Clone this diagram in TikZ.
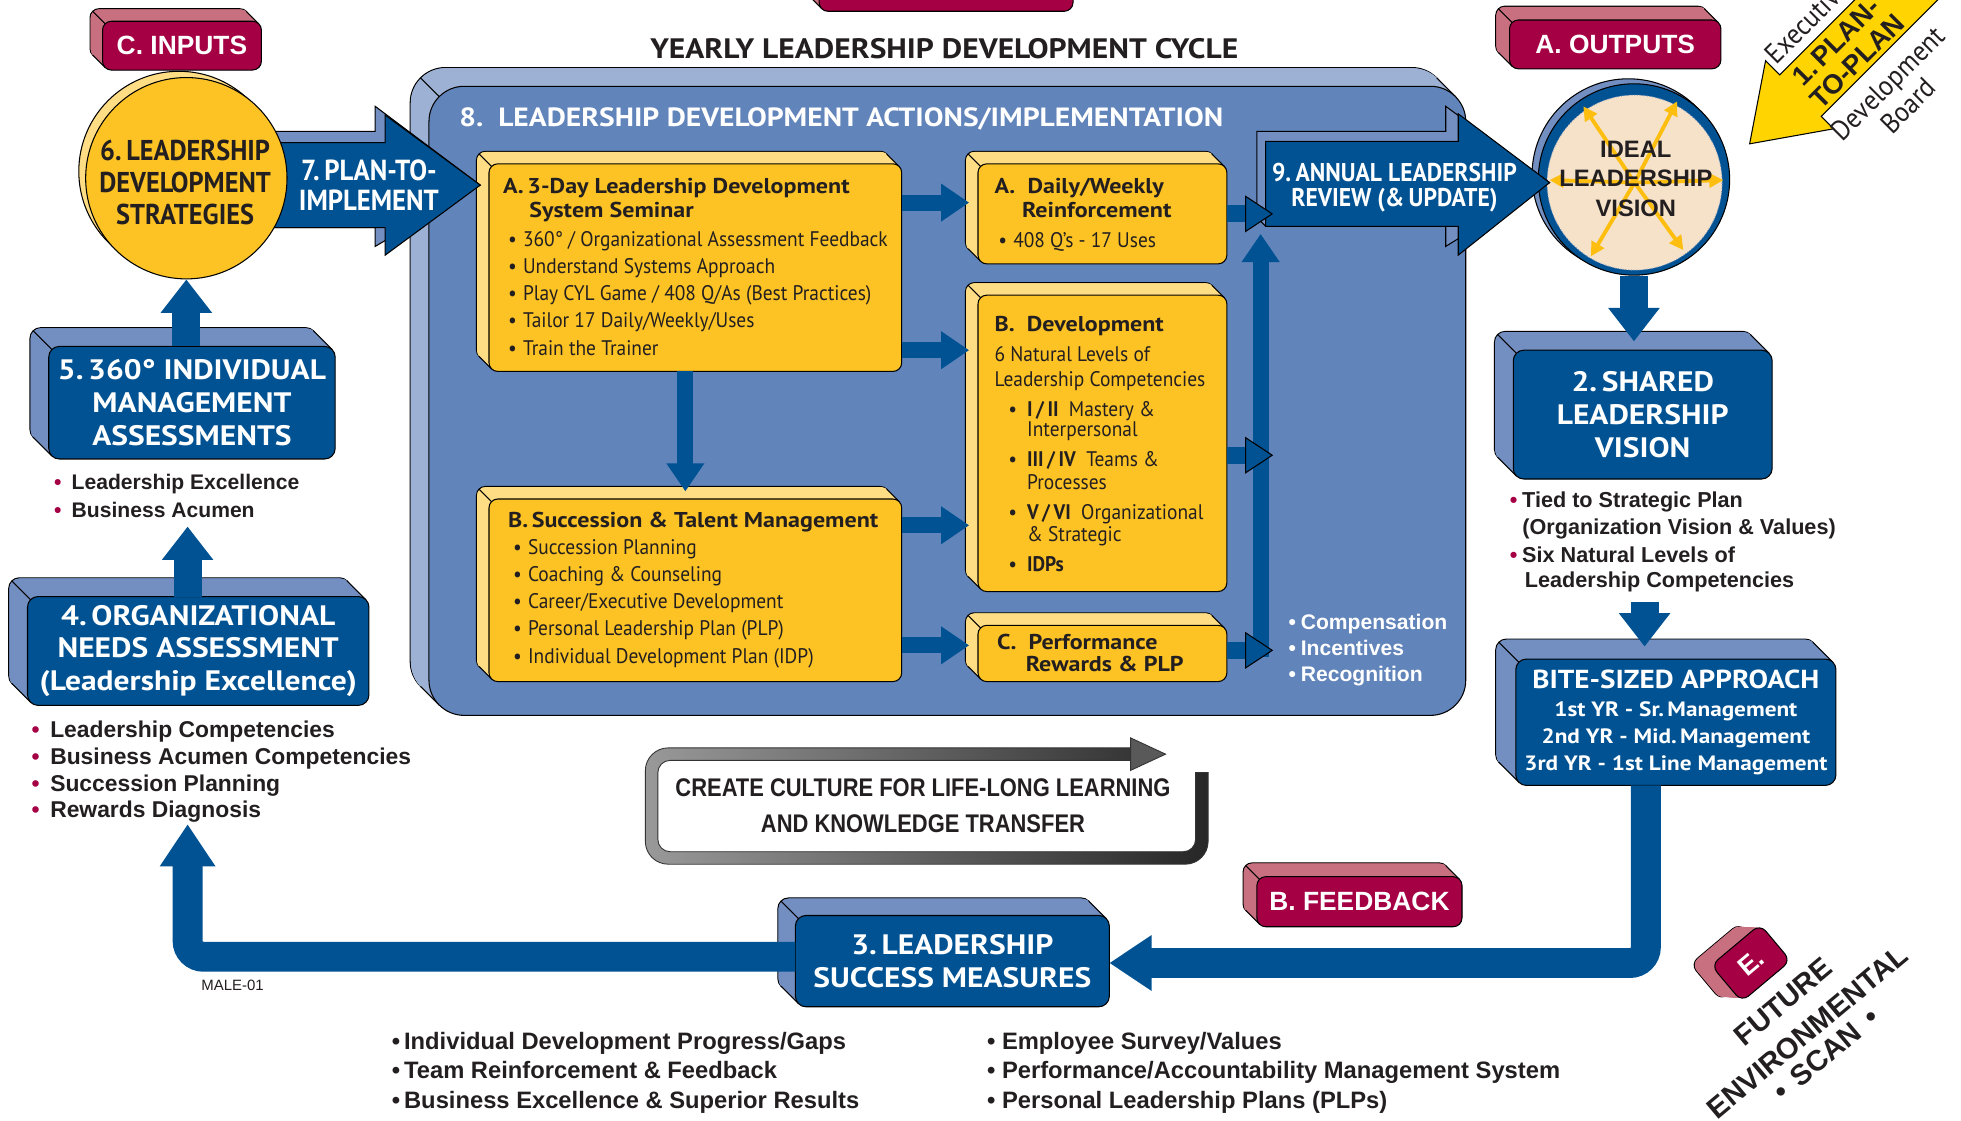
\documentclass[tikz,border=0pt]{standalone}
\usepackage{fontspec}
\setmainfont{PT Sans}
\newfontfamily\myr{PT Sans}[FakeStretch=0.92]
\newfontfamily\myw{PT Sans}[FakeStretch=1.12]
\newfontfamily\hel{Liberation Sans}
\newfontfamily\helc{Liberation Sans}[FakeStretch=0.86]
\usetikzlibrary{arrows.meta}

\definecolor{navy}{RGB}{0,82,147}
\definecolor{navyback}{RGB}{115,143,194}
\definecolor{panel}{RGB}{97,132,186}
\definecolor{panelback}{RGB}{157,177,212}
\definecolor{gold}{RGB}{253,195,37}
\definecolor{goldback}{RGB}{255,221,133}
\definecolor{wine}{RGB}{165,0,68}
\definecolor{wineback}{RGB}{201,112,128}
\definecolor{cream}{RGB}{245,226,200}
\definecolor{ray}{RGB}{253,190,16}
\definecolor{plan}{RGB}{255,212,0}
\definecolor{ink}{RGB}{35,31,32}

\newcommand\fsz[2]{\fontsize{#1}{#2}\selectfont}
\newcommand\rb[1]{\makebox[#1][l]{\textcolor{wine}{•}}}
\newcommand\kb[1]{\makebox[#1][l]{•}}

\pgfdeclarelayer{panelback}
\pgfdeclarelayer{panel}
\pgfdeclarelayer{back}
\pgfsetlayers{panelback,panel,back,main}

% slab node between two corners (picture units)
\newcommand\slabat[7]{%
  \node[#1, minimum width={(#5-#3)*0.025cm}, minimum height={(#6-#4)*0.025cm}]
    (#2) at ({(#3+#5)/2},{(#4+#6)/2}) {#7};}

% back face of a slab: layer, node, depth, colour, radius
\newcommand\extrude[5]{%
  \begin{pgfonlayer}{#1}
    \draw[fill=#4, line width=0.6pt, rounded corners=#5]
      ([shift={(-#3,-#3)}]#2.north west) rectangle ([shift={(-#3,-#3)}]#2.south east);
    \foreach \s in {0.5,1,...,#3}
      \fill[#4, rounded corners=#5]
        ([shift={({\s-#3},{\s-#3})}]#2.north west) rectangle ([shift={({\s-#3},{\s-#3})}]#2.south east);
    \draw[line width=0.6pt] ([shift={({0.293*#5},{0.293*#5})}]#2.south west) -- ++(-#3,-#3);
    \draw[line width=0.6pt] ([shift={({-0.293*#5},{-0.293*#5})}]#2.north east) -- ++(-#3,-#3);
    \draw[line width=0.6pt] ([shift={({0.293*#5},{-0.293*#5})}]#2.north west) -- ++(-#3,-#3);
  \end{pgfonlayer}}

\tikzset{
  slab/.style={rectangle, rounded corners=5pt, draw=black, line width=0.6pt,
    inner sep=0pt, outer sep=0pt, align=center},
  navyslab/.style={slab, rounded corners=6pt, fill=navy, text=white,
    font=\myw\bfseries\fsz{16}{18.6}},
  goldslab/.style={slab, fill=gold},
  wineslab/.style={slab, fill=wine, text=white, font=\hel\bfseries\fsz{15}{18}},
  panelslab/.style={slab, rounded corners=20pt, fill=panel},
  boxtxt/.style={anchor=base west, inner sep=0pt, text=ink, font=\myr\fsz{12}{14}},
  boxhead/.style={boxtxt, font=\myw\bfseries\fsz{12.2}{15}},
  listtxt/.style={anchor=base west, inner sep=0pt, text=ink, font=\hel\bfseries\fsz{12.3}{15}},
  blk/.style={navy, line width=9.2pt, -{Triangle[length=16pt, width=20.5pt]}},
  blkO/.style={navy, line width=9.8pt, -{Triangle[length=16pt, width=21pt, fill=navy, color=black, line width=0.6pt]}},
  blkV/.style={navy, line width=16pt, -{Triangle[length=19pt, width=28pt]}},
  returnarrow/.style={navy, line width=17pt, rounded corners=9pt, -{Triangle[length=24pt, width=30pt]}},
}

\begin{document}
\begin{tikzpicture}[x=0.025cm, y=-0.025cm]
\useasboundingbox (0,0) rectangle (1568,896);

\node[text=ink, font=\myw\bfseries\fsz{16}{20}] (cycle) at (755,39) {YEARLY LEADERSHIP DEVELOPMENT CYCLE};

% panel 8
\begin{pgfonlayer}{panel}
  \slabat{panelslab}{actions}{343}{69}{1172}{572}{}
\end{pgfonlayer}
\extrude{panelback}{actions}{15}{panelback}{20pt}
\node[anchor=base west, inner sep=0pt, text=white, font=\myw\bfseries\fsz{15}{19}] (actionsTitle) at (367,101)
  {8.\ \ LEADERSHIP DEVELOPMENT ACTIONS/IMPLEMENTATION};

% gold boxes
\slabat{goldslab}{semA}{391}{131}{721}{297}{}
\extrude{back}{semA}{10}{goldback}{5pt}
\node[boxhead] (semAh1) at (402,155) {A.\,3-Day Leadership Development};
\node[boxhead] (semAh2) at (423,174) {System Seminar};
\foreach \t [count=\i] in {360° / Organizational Assessment Feedback, Understand Systems Approach,
    Play CYL Game / 408 Q/As (Best Practices), Tailor 17 Daily/Weekly/Uses, Train the Trainer}
  \node[boxtxt] (semA\i) at (406,{197+21.75*(\i-1)}) {\kb{8.5pt}\t};

\slabat{goldslab}{daily}{782}{131}{981}{211}{}
\extrude{back}{daily}{10}{goldback}{5pt}
\node[boxhead] (dailyh1) at (795,155) {A.\ \ Daily/Weekly};
\node[boxhead] (dailyh2) at (817,174) {Reinforcement};
\node[boxtxt] (daily1) at (798,198) {\kb{8.5pt}408 Q’s - 17 Uses};

\slabat{goldslab}{dev}{782}{236}{981}{473}{}
\extrude{back}{dev}{10}{goldback}{5pt}
\node[boxhead] (devh) at (795,265) {B.\ \ Development};
\node[boxtxt] (dev1) at (795,289) {6 Natural Levels of};
\node[boxtxt] (dev2) at (795,309) {Leadership Competencies};
\node[boxtxt] (dev3) at (806,333) {\kb{10.6pt}\textbf{I\,/\,II}\ \ Mastery \&};
\node[boxtxt] (dev4) at (821,349) {Interpersonal};
\node[boxtxt] (dev5) at (806,373) {\kb{10.6pt}\textbf{III\,/\,IV}\ \ Teams \&};
\node[boxtxt] (dev6) at (821,391) {Processes};
\node[boxtxt] (dev7) at (806,415) {\kb{10.6pt}\textbf{V\,/\,VI}\ \ Organizational};
\node[boxtxt] (dev8) at (821,433) {\& Strategic};
\node[boxtxt] (dev9) at (806,457) {\kb{10.6pt}\textbf{IDPs}};

\slabat{goldslab}{succ}{391}{399}{721}{545}{}
\extrude{back}{succ}{10}{goldback}{5pt}
\node[boxhead] (succh) at (406,422) {B.\,Succession \& Talent Management};
\foreach \t [count=\i] in {Succession Planning, Coaching \& Counseling, Career/Executive Development,
    Personal Leadership Plan (PLP), Individual Development Plan (IDP)}
  \node[boxtxt] (succ\i) at (410,{443+21.8*(\i-1)}) {\kb{8.5pt}\t};

\slabat{goldslab}{perf}{782}{500}{981}{545}{}
\extrude{back}{perf}{10}{goldback}{5pt}
\node[boxhead] (perfh1) at (797,519) {C.\ \ Performance};
\node[boxhead] (perfh2) at (820,537) {Rewards \& PLP};

% arrows inside the panel
\coordinate (dailyIn) at ([xshift=-5pt]daily.west);
\coordinate (devIn) at ([xshift=-5pt]dev.west);
\coordinate (perfIn) at ([xshift=-5pt]perf.west);
\coordinate (succIn) at ([yshift=4.3pt]succ.north);
\draw[blk] (semA.east |- 0,162) -- (dailyIn |- 0,162);
\draw[blk] (semA.east |- 0,280) -- (devIn |- 0,280);
\draw[blk] (succ.east |- 0,420) -- (devIn |- 0,420);
\draw[blk] (succ.east |- 0,516) -- (perfIn |- 0,516);
\draw[blk] (semA.south -| 548,0) -- (succIn -| 548,0);

\foreach \t [count=\i] in {Compensation, Incentives, Recognition}
  \node[listtxt, text=white, font=\hel\bfseries\fsz{12}{14}] (reward\i) at (1030,{503+21*(\i-1)}) {\kb{7pt}\t};

% arrow 7 and circle 6
\filldraw[fill=navyback, line width=0.6pt] (215,105) -- (300,105) -- (300,85) -- (384,148)
  -- (300,197) -- (300,182) -- (215,182) -- cycle;
\filldraw[fill=navy, line width=0.6pt] (215,114) -- (308,114) -- (308,92) -- (384,148)
  -- (308,204) -- (308,182) -- (215,182) -- cycle;
\node[text=white, font=\myr\bfseries\fsz{16.5}{17}, align=center] (planTxt) at (295,148) {7.\,PLAN-TO-\\IMPLEMENT};

\filldraw[fill=goldback, line width=0.6pt] (143,137) circle (80);
\node[circle, draw=black, line width=0.6pt, fill=gold, minimum size={161*0.025cm}, inner sep=0pt] (strat) at (149,142.5) {};
\node[align=center, text=ink, font=\myr\bfseries\fsz{16.3}{18}] (stratTxt) at (148,146)
  {6.\,LEADERSHIP\\DEVELOPMENT\\STRATEGIES};

% left column
\slabat{navyslab}{b5}{39}{277}{268}{367}{5.\,360° INDIVIDUAL\\MANAGEMENT\\ASSESSMENTS}
\extrude{back}{b5}{15}{navyback}{6pt}
\slabat{navyslab}{b4}{22}{477}{295}{564}{4.\,ORGANIZATIONAL\\NEEDS ASSESSMENT\\(Leadership Excellence)}
\extrude{back}{b4}{15}{navyback}{6pt}

\node[listtxt, font=\hel\bfseries\fsz{12}{14}] (need5a) at (43,391) {\rb{10pt}Leadership Excellence};
\node[listtxt, font=\hel\bfseries\fsz{12}{14}] (need5b) at (43,414) {\rb{10pt}Business Acumen};
\foreach \t [count=\i] in {Leadership Competencies, Business Acumen Competencies, Succession Planning, Rewards Diagnosis}
  \node[listtxt, font=\hel\bfseries\fsz{13}{15}] (need4\i) at (25,{590+21.3*(\i-1)}) {\rb{10.6pt}\t};

\coordinate (tip5) at (150,421);
\coordinate (tip4) at (150,659);
\draw[blkV] (b5.north -| strat.south) -- (strat.south);
\draw[blkV] (b4.north -| tip5) -- (tip5);

% bottom row
\slabat{navyslab}{b3}{636}{732}{887}{805}{3.\,LEADERSHIP\\SUCCESS MEASURES}
\extrude{back}{b3}{14}{navyback}{6pt}
\draw[returnarrow] (b3.west |- 0,765) -- (tip4 |- 0,765) -- (tip4);
\node[text=ink, font=\hel\fsz{8.5}{10}] (code) at (186,788) {MALE-01};

\slabat{wineslab}{feedback}{1005}{701}{1169}{741}{B. FEEDBACK}
\extrude{back}{feedback}{11}{wineback}{5pt}

\foreach \t [count=\i] in {Individual Development Progress/Gaps, Team Reinforcement \& Feedback,
    Business Excellence \& Superior Results}
  \node[listtxt, font=\hel\bfseries\fsz{13.5}{16}] (measL\i) at (313,{839+23.5*(\i-1)}) {\kb{7pt}\t};
\foreach \t [count=\i] in {Employee Survey/Values, Performance/Accountability Management System,
    Personal Leadership Plans (PLPs)}
  \node[listtxt, font=\hel\bfseries\fsz{13.5}{16}] (measR\i) at (789,{839+23.5*(\i-1)}) {\kb{8.5pt}\t};

% culture frame
\path[even odd rule, left color=gray!80, middle color=gray!8, right color=black!85]
  [rounded corners=13pt] (516,598) rectangle (966,691)
  [rounded corners=7pt] (526,608) rectangle (956,681);
\draw[black!80, line width=0.5pt, rounded corners=13pt] (516,598) rectangle (966,691);
\draw[black!80, line width=0.5pt, rounded corners=7pt] (526,608) rectangle (956,681);
\fill[white] (905,590) rectangle (970,617.5);
\draw[black!80, line width=0.5pt] (956,617.5) -- (966,617.5);
\filldraw[fill=black!65, draw=black!80, line width=0.5pt] (904,590) -- (932,603) -- (904,616) -- cycle;
\node[text=ink, font=\helc\bfseries\fsz{14.5}{15}] (culture1) at (738,630) {CREATE CULTURE FOR LIFE-LONG LEARNING};
\node[text=ink, font=\helc\bfseries\fsz{14.5}{15}] (culture2) at (738,659) {AND KNOWLEDGE TRANSFER};

% right column
\slabat{navyslab, font=\myw\bfseries\fsz{11.8}{15.2}}{bite}{1212}{527}{1468}{628}{{\fsz{14.8}{15.2}BITE-SIZED APPROACH}\\[1pt]
  1st YR - Sr.\,Management\\2nd YR - Mid.\,Management\\3rd YR - 1st Line Management}
\extrude{back}{bite}{16}{navyback}{6pt}
\draw[returnarrow] (bite.south -| 1316,0) -- (1316,770) -- (b3.east |- 0,770);

\slabat{navyslab}{b2}{1210}{280}{1417}{383}{2.\,SHARED\\LEADERSHIP\\VISION}
\extrude{back}{b2}{15}{navyback}{6pt}
\node[listtxt] (vis1) at (1207,406) {\rb{7pt}Tied to Strategic Plan};
\node[listtxt] (vis2) at (1217,427) {(Organization Vision \& Values)};
\node[listtxt] (vis3) at (1207,450) {\rb{7pt}Six Natural Levels of};
\node[listtxt] (vis4) at (1219,470) {Leadership Competencies};
\coordinate (biteIn) at (1315,517);
\draw[blkV] (biteIn |- 0,481) -- (biteIn);

% ideal vision
\filldraw[fill=navyback, line width=0.6pt] (1302,140) circle (77);
\node[circle, fill=navy, draw=black, line width=0.6pt, minimum size={153*0.025cm}, inner sep=0pt] (vision) at (1306.5,143.5) {};
\node[circle, fill=cream, draw=navyback, densely dotted, line width=0.5pt, minimum size={140*0.025cm}, inner sep=0pt] (visionIn) at (1307,146) {};
\foreach \p in {(1266,85),(1341,81),(1239,144),(1378,144),(1272,205),(1346,200)}
  \draw[ray, line width=2.2pt, -{Triangle[length=8pt, width=8pt]}] (visionIn.center) -- \p;
\draw[blkV, shorten >=5pt] (vision.south) -- (vision.south |- b2.north);

% arrow 9
\filldraw[fill=navyback, line width=0.6pt] (1005,105) -- (1156,105) -- (1156,85) -- (1239,146)
  -- (1156,197) -- (1156,181) -- (1012,181) -- (1005,174) -- cycle;
\filldraw[fill=navy, line width=0.6pt] (1012,113) -- (1166,113) -- (1166,91) -- (1239,146)
  -- (1166,204) -- (1166,181) -- (1012,181) -- cycle;
\node[text=white, font=\myr\bfseries\fsz{14.6}{14.2}, align=center] (reviewTxt) at (1115,150) {9.\,ANNUAL LEADERSHIP\\REVIEW (\&\,UPDATE)};
\node[text=ink, font=\hel\bfseries\fsz{13.5}{17}, align=center] (visionTxt) at (1308,143) {IDEAL\\LEADERSHIP\\VISION};

% column into 9
\coordinate (colTop) at (1008,187);
\coordinate (colBot) at (1008,525);
\coordinate (colEdge) at (1018,0);
\draw[blk] (colBot) -- (colTop);
\draw[blkO] (daily.east) -- (colEdge |- daily.east);
\draw[blkO] (dev.east |- 0,364) -- (colEdge |- 0,364);
\draw[blkO] (perf.east |- 0,520) -- (colEdge |- 0,520);

% tabs
\slabat{wineslab}{inputs}{82}{17}{209}{56}{C. INPUTS}
\extrude{back}{inputs}{10}{wineback}{5pt}
\slabat{wineslab}{outputs}{1207}{16}{1376}{55}{A. OUTPUTS}
\extrude{back}{outputs}{11}{wineback}{5pt}
\slabat{wineslab}{topTab}{655}{-40}{858}{9}{}
\extrude{back}{topTab}{10}{wineback}{5pt}

% plan-to-plan arrow
\begin{scope}[shift={(1399,115)}, rotate=45]
  \filldraw[fill=plan, line width=0.6pt] (0,0) -- (56,-38) -- (56,-22) -- (230,-22) -- (230,25)
    -- (56,25) -- (56,39) -- cycle;
  \node[anchor=west, inner sep=0pt, transform shape, text=ink, font=\hel\bfseries\fsz{15.5}{18}] (planA) at (62,-9) {1.\,PLAN-};
  \node[anchor=west, inner sep=0pt, transform shape, text=ink, font=\hel\bfseries\fsz{15.5}{18}] (planB) at (59,14) {TO-PLAN};
  \node[anchor=west, inner sep=0pt, transform shape, text=ink, font=\myr\fsz{16}{18}] (exec) at (59,-37) {Executive};
  \node[anchor=west, inner sep=0pt, transform shape, text=ink, font=\myr\fsz{16}{18}] (devBoard) at (53,46) {Development};
  \node[inner sep=0pt, transform shape, text=ink, font=\myr\fsz{16}{18}] (board) at (111,68) {Board};
\end{scope}

% future environmental scan
\draw[fill=wineback, line width=0.6pt, rounded corners=5pt, shift={(1383.5,769)}, rotate=40] (-25.5,-19) rectangle (25.5,19);
\foreach \s in {16,15.5,...,0.5}
  \fill[wineback, rounded corners=5pt, shift={({1400-\s},{770-\s/16})}, rotate=40] (-25.5,-19) rectangle (25.5,19);
\node[wineslab, rotate=40, minimum width={51*0.025cm}, minimum height={38*0.025cm}] (eTab) at (1400,770) {E.};
\node[rotate=40, text=ink, font=\hel\bfseries\fsz{16.5}{19}] (future) at (1426,801) {FUTURE};
\node[rotate=40, text=ink, font=\hel\bfseries\fsz{16.5}{19}] (environ) at (1445,825) {ENVIRONMENTAL};
\node[rotate=40, text=ink, font=\hel\bfseries\fsz{16.5}{19}] (scan) at (1460,843) {•\hspace{7pt}SCAN\hspace{7pt}•};
\end{tikzpicture}
\end{document}
